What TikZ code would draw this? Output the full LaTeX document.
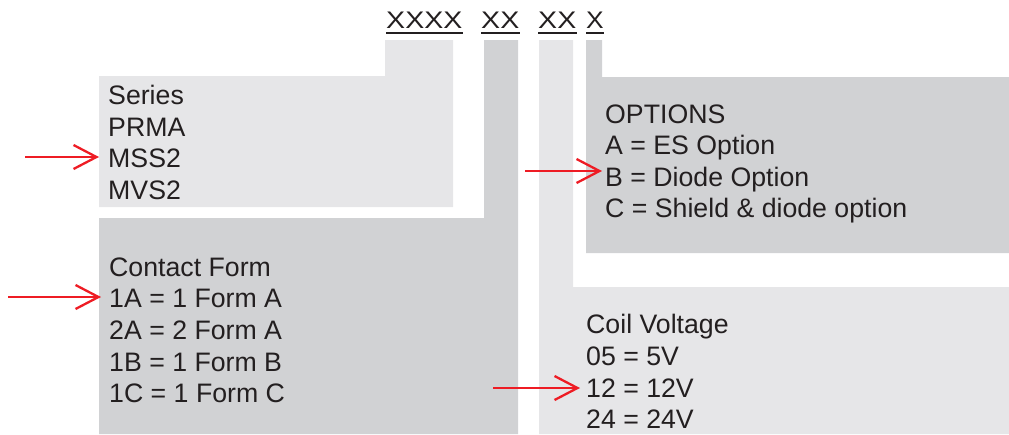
\documentclass[tikz,border=0pt]{standalone}
\usepackage{fontspec}
\setmainfont{Liberation Sans}
\usetikzlibrary{arrows.meta}
\definecolor{lightfill}{HTML}{E6E6E8}
\definecolor{darkfill}{HTML}{D1D2D4}
\definecolor{ink}{HTML}{231F20}
\definecolor{arrowred}{HTML}{EE1C24}

\begin{document}
\begin{tikzpicture}[x=1pt,y=-1pt,
  entry/.style={anchor=base west,inner sep=0pt,text=ink,font=\fontsize{26.7}{31}\selectfont},
  code/.style={anchor=base west,inner sep=0pt,text=ink,font=\fontsize{24}{26}\selectfont},
  uline/.style={ink,line width=2pt},
  pointer/.style={arrowred,line width=2.3pt,-{Straight Barb[length=23pt,width=24pt]}}]
  \useasboundingbox (0,0) rectangle (1009,434);
  % grey fields
  \fill[lightfill] (99,76) -- (385,76) -- (385,40) -- (453,40) -- (453,207) -- (99,207) -- cycle;
  \fill[darkfill] (99,218) -- (484,218) -- (484,40) -- (518,40) -- (518,434) -- (99,434) -- cycle;
  \fill[lightfill] (539,40) -- (573,40) -- (573,287) -- (1009,287) -- (1009,434) -- (539,434) -- cycle;
  \fill[darkfill] (586,40) -- (602,40) -- (602,77) -- (1009,77) -- (1009,253) -- (586,253) -- cycle;
  % part number
  \node[code] (pser) at (386,28) {\scalebox{1.19}[1]{XXXX}};
  \node[code] (pform) at (481,28) {\scalebox{1.19}[1]{XX}};
  \node[code] (pcoil) at (538,28) {\scalebox{1.19}[1]{XX}};
  \node[code] (popt) at (586,28) {\scalebox{1.1}[1]{X}};
  \foreach \n in {pser,pform,pcoil,popt}
    \draw[uline] ([yshift=-5pt]\n.base west) -- ([yshift=-5pt]\n.base east);
  % series
  \node[entry] (ser) at (108,104) {Series};
  \node[entry] (prma) at (108,136) {PRMA};
  \node[entry] (mss) at (108,167) {MSS2};
  \node[entry] (mvs) at (108,199) {MVS2};
  % contact form
  \node[entry] (cform) at (109,276) {Contact Form};
  \node[entry] (fa) at (109,307) {1A = 1 Form A};
  \node[entry] (fb) at (109,339) {2A = 2 Form A};
  \node[entry] (fc) at (109,371) {1B = 1 Form B};
  \node[entry] (fd) at (109,402) {1C = 1 Form C};
  % options
  \node[entry] (opt) at (605,123) {OPTIONS};
  \node[entry] (opta) at (605,154) {A = ES Option};
  \node[entry] (optb) at (605,186) {B = Diode Option};
  \node[entry] (optc) at (605,217) {C = Shield \& diode option};
  % coil voltage
  \node[entry] (coil) at (586,333) {Coil Voltage};
  \node[entry] (va) at (586,365) {05 = 5V};
  \node[entry] (vb) at (586,397) {12 = 12V};
  \node[entry] (vc) at (586,428) {24 = 24V};
  % selection arrows
  \coordinate (s1) at (25,157);
  \coordinate (s2) at (8,297);
  \coordinate (s3) at (525,171);
  \coordinate (s4) at (493,388);
  \draw[pointer,shorten >=9pt] (s1) -- (s1 -| mss.west);
  \draw[pointer,shorten >=8pt] (s2) -- (s2 -| fa.west);
  \draw[pointer,shorten >=3pt] (s3) -- (s3 -| optb.west);
  \draw[pointer,shorten >=6pt] (s4) -- (s4 -| vb.west);
\end{tikzpicture}
\end{document}
